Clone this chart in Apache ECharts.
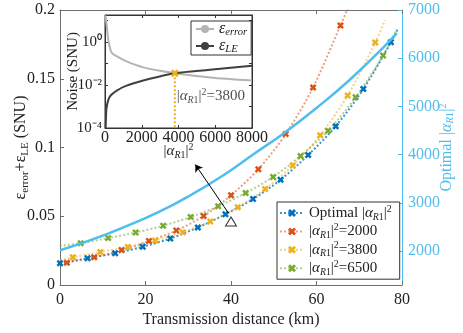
<!DOCTYPE html>
<html><head><meta charset="utf-8">
<script src="https://cdn.jsdelivr.net/npm/echarts@6/dist/echarts.min.js"></script>
<style>html,body{margin:0;padding:0;background:#fff}#c{width:463px;height:333px}</style>
</head><body><div id="c"></div>
<script>
// ---------- data ----------
const xTicks = [0, 20, 40, 60, 80];
const leftTicks = [0, 0.05, 0.1, 0.15, 0.2];
const rightTicks = [2000, 3000, 4000, 5000, 6000, 7000];
const insetXTicks = [0, 2000, 4000, 6000, 8000];
const insetYLabels = [1e-4, 1e-2, 1];
const insetYTicks = [1e-4, 1e-3, 1e-2, 1e-1, 1, 10];

// Optimal |a_R1|^2 (noise, left axis)
const optDist  = [0, 6.45, 12.9, 19.35, 25.8, 32.25, 38.7, 45.15, 51.6, 58.05, 64.5, 70.95, 77.4];
const optNoise = [0.0158, 0.0195, 0.0231, 0.0278, 0.0338, 0.0418, 0.0515, 0.0625, 0.0766, 0.0945, 0.1155, 0.1425, 0.1765];
const optEnd   = [79, 0.186];

const a2000Dist  = [1.6, 8.0, 14.4, 20.8, 27.2, 33.6, 40.0, 46.4, 52.8, 59.2, 65.6];
const a2000Noise = [0.0162, 0.0201, 0.0254, 0.0320, 0.0396, 0.0502, 0.0652, 0.0842, 0.1098, 0.1437, 0.1888];
const a2000Start = [0, 0.0155], a2000End = [67.6, 0.203];

const a3800Dist  = [3.0, 9.43, 15.86, 22.29, 28.72, 35.15, 41.58, 48.01, 54.44, 60.87, 67.3, 73.73];
const a3800Noise = [0.0202, 0.0240, 0.0276, 0.0323, 0.0384, 0.0461, 0.0566, 0.0698, 0.0870, 0.1090, 0.1378, 0.1763];
const a3800Start = [0, 0.0183], a3800End = [76, 0.1925];

const a6500Dist  = [4.84, 11.27, 17.7, 24.13, 30.56, 36.99, 43.42, 49.85, 56.28, 62.71, 69.14, 75.57];
const a6500Noise = [0.0304, 0.0341, 0.0382, 0.0431, 0.0494, 0.0572, 0.0669, 0.0786, 0.0939, 0.1122, 0.1365, 0.1669];
const a6500Start = [0, 0.0285], a6500End = [78.8, 0.186];

// Optimal |a_R1|^2 value (right axis)
const powDist  = [0, 7.3, 15.1, 22.9, 30.7, 38.5, 45, 52.2, 60, 67.8, 75.6, 78.8];
const powValue = [2020, 2235, 2505, 2805, 3170, 3590, 3995, 4435, 4970, 5555, 6220, 6520];

// annotation
const trianglePt = [40, 0.0462];
const arrowFrom = [39.4, 0.0523], arrowTo = [31.65, 0.0876];

// inset
const errPower = [15, 92, 179, 364, 722, 1178, 2080, 2987, 3800, 5703, 8000];
const errNoise = [17.5, 6, 1.26, 0.32, 0.2, 0.125, 0.066, 0.046, 0.0355, 0.0224, 0.0162];
const lePower  = [37, 55, 92, 272, 722, 1178, 2080, 2987, 3800, 5703, 8000];
const leNoise  = [1e-4, 3.16e-4, 1e-3, 2.95e-3, 6.03e-3, 9.33e-3, 0.0162, 0.0251, 0.0355, 0.0513, 0.0794];
const crossPower = 3800, crossNoise = 0.0355, insetFloor = 1e-4;
const crossLabelAt = [3900, 0.0029];

// ---------- styles ----------
const FONT = '"Liberation Serif","Times New Roman",serif';
const C = {blue:'#0072BD', orange:'#D95319', yellow:'#EDB120', green:'#77AC30', cyan:'#4DBEEE',
           lgray:'#b4b4b4', dgray:'#404040', axis:'#6e6e6e', text:'#222'};
const XPATH = 'path://M0.25,0 L0.5,0.25 L0.75,0 L1,0.25 L0.75,0.5 L1,0.75 L0.75,1 L0.5,0.75 L0.25,1 L0,0.75 L0.25,0.5 L0,0.25 Z';

function richSet(size, color) {
  return {
    r:  {fontFamily: FONT, fontSize: size, lineHeight: 18, color},
    i:  {fontFamily: FONT, fontSize: size, lineHeight: 18, fontStyle: 'italic', color},
    si: {fontFamily: FONT, fontSize: size*0.66, lineHeight: 10, verticalAlign: 'bottom', fontStyle: 'italic', color},
    s:  {fontFamily: FONT, fontSize: size*0.66, lineHeight: 10, verticalAlign: 'bottom', color},
    p:  {fontFamily: FONT, fontSize: size*0.66, lineHeight: 10, verticalAlign: 'top', color}
  };
}
const ALPHA = '{r||}{i|α}{si|R}{s|1}{r||}{p|2}';
const plain = v => String(v);
const SUP = {'0':'⁰','1':'¹','2':'²','3':'³','4':'⁴','-':'⁻'};
const pow10Label = v => '10' + String(Math.round(Math.log10(v))).split('').map(ch => SUP[ch]).join('');

function pairs(xs, ys) { return xs.map((x, k) => [x, ys[k]]); }
function dottedSeries(name, color, start, xs, ys, end, lineOpacity) {
  const data = [];
  if (start) data.push({value: start, symbol: 'none'});
  pairs(xs, ys).forEach(p => data.push(p));
  if (end) data.push({value: end, symbol: 'none'});
  return {
    name, type: 'line', xAxisIndex: 0, yAxisIndex: 0, smooth: 0.3, clip: true,
    data, symbol: XPATH, symbolSize: 7, showAllSymbol: true,
    lineStyle: {color, width: 2, type: 'dotted', opacity: lineOpacity},
    itemStyle: {color}, z: 3
  };
}

const legendNames = {
  opt: '{r|Optimal }' + ALPHA,
  a2000: ALPHA + '{r|=2000}',
  a3800: ALPHA + '{r|=3800}',
  a6500: ALPHA + '{r|=6500}',
  err: '{i|ε}{si|error}',
  le: '{i|ε}{si|LE}'
};

const chart = echarts.init(document.getElementById('c'), null, {renderer: 'canvas'});
chart.setOption({
  animation: false,
  backgroundColor: '#fff',
  grid: [
    {left: 60, top: 10, width: 342, height: 275, show: false, outerBoundsMode: 'none', containLabel: false},
    {left: 105, top: 15, width: 147, height: 113, show: true, backgroundColor: '#fff',
     borderColor: '#333', borderWidth: 1, z: 10, outerBoundsMode: 'none', containLabel: false}
  ],
  xAxis: [
    {type: 'value', gridIndex: 0, min: 0, max: 80, interval: 20, position: 'bottom',
     axisLine: {show: true, onZero: false, lineStyle: {color: C.axis}},
     axisTick: {inside: true, length: 4, lineStyle: {color: C.axis}},
     axisLabel: {fontFamily: FONT, fontSize: 16, color: C.text, margin: 7, formatter: plain},
     splitLine: {show: false},
     name: 'Transmission distance (km)', nameLocation: 'middle', nameGap: 27, nameMoveOverlap: false,
     nameTextStyle: {fontFamily: FONT, fontSize: 16, color: C.text}},
    {type: 'value', gridIndex: 0, min: 0, max: 80, interval: 20, position: 'top',
     axisLine: {show: true, onZero: false, lineStyle: {color: C.axis}},
     axisTick: {inside: true, length: 4, lineStyle: {color: C.axis}},
     axisLabel: {show: false}, splitLine: {show: false}},
    {type: 'value', gridIndex: 1, min: 0, max: 8000, interval: 2000, position: 'bottom', z: 12,
     axisLine: {show: true, onZero: false, lineStyle: {color: '#333'}},
     axisTick: {inside: true, length: 3, lineStyle: {color: '#333'}},
     axisLabel: {fontFamily: FONT, fontSize: 16, color: C.text, margin: 2, formatter: plain},
     splitLine: {show: false},
     name: ALPHA, nameLocation: 'middle', nameGap: 14, nameMoveOverlap: false,
     nameTextStyle: {fontFamily: FONT, fontSize: 15, color: C.text, rich: richSet(15, C.text)}},
    {type: 'value', gridIndex: 1, min: 0, max: 8000, interval: 2000, position: 'top', z: 12,
     axisLine: {show: true, onZero: false, lineStyle: {color: '#333'}},
     axisTick: {inside: true, length: 3, lineStyle: {color: '#333'}},
     axisLabel: {show: false}, splitLine: {show: false}}
  ],
  yAxis: [
    {type: 'value', gridIndex: 0, min: 0, max: 0.2, interval: 0.05, position: 'left',
     axisLine: {show: true, onZero: false, lineStyle: {color: C.axis}},
     axisTick: {inside: true, length: 4, lineStyle: {color: C.axis}},
     axisLabel: {fontFamily: FONT, fontSize: 16, color: C.text, margin: 5, formatter: plain},
     splitLine: {show: false},
     name: '{g|ε}{s|error}{g|+ε}{s|LE}{g| (SNU)}', nameLocation: 'middle', nameGap: 29, nameRotate: 90,
     nameMoveOverlap: false,
     nameTextStyle: {fontFamily: FONT, fontSize: 16, color: C.text,
       rich: {g: {fontFamily: FONT, fontSize: 16, lineHeight: 20, color: C.text},
              s: {fontFamily: FONT, fontSize: 11, lineHeight: 12, verticalAlign: 'bottom', color: C.text}}}},
    {type: 'value', gridIndex: 0, min: 1300, max: 7000, position: 'right',
     axisLine: {show: true, onZero: false, lineStyle: {color: C.cyan}},
     axisTick: {inside: true, length: 4, lineStyle: {color: C.cyan}, customValues: rightTicks},
     axisLabel: {fontFamily: FONT, fontSize: 16, color: C.cyan, margin: 6, customValues: rightTicks, formatter: plain},
     splitLine: {show: false},
     name: '{r|Optimal }' + ALPHA, nameLocation: 'middle', nameGap: 36, nameRotate: 90, nameMoveOverlap: false,
     nameTextStyle: {fontFamily: FONT, fontSize: 16, color: C.cyan, rich: richSet(16, C.cyan)}},
    {type: 'log', gridIndex: 1, min: 1e-4, max: 18, position: 'left', z: 12,
     axisLine: {show: true, onZero: false, lineStyle: {color: '#333'}},
     axisTick: {inside: true, length: 3, lineStyle: {color: '#333'}, customValues: insetYTicks},
     axisLabel: {customValues: insetYLabels, margin: 3, inside: false, align: 'right',
       fontFamily: FONT, fontSize: 15, color: C.text, formatter: pow10Label},
     splitLine: {show: false},
     name: 'Noise (SNU)', nameLocation: 'middle', nameGap: 24, nameRotate: 90, nameMoveOverlap: false,
     nameTextStyle: {fontFamily: FONT, fontSize: 15, color: C.text}},
    {type: 'log', gridIndex: 1, min: 1e-4, max: 18, position: 'right', z: 12,
     axisLine: {show: true, onZero: false, lineStyle: {color: '#333'}},
     axisTick: {inside: true, length: 3, lineStyle: {color: '#333'}, customValues: insetYTicks},
     axisLabel: {show: false}, splitLine: {show: false}}
  ],
  legend: [
    {data: ['opt', 'a2000', 'a3800', 'a6500'], orient: 'vertical', left: 277, top: 202,
     itemWidth: 24, itemHeight: 10, itemGap: 0.4, padding: [2, 8, 2, 2],
     backgroundColor: '#fff', borderColor: '#333', borderWidth: 1, borderRadius: 0,
     formatter: n => legendNames[n],
     textStyle: {fontFamily: FONT, fontSize: 15, color: C.text, rich: richSet(15, C.text)}, z: 20},
    {data: ['err', 'le'], orient: 'vertical', left: 191, top: 21,
     itemWidth: 18, itemHeight: 10, itemGap: 0, padding: [0, 4, 0, 4],
     backgroundColor: '#fff', borderColor: '#333', borderWidth: 1, borderRadius: 0,
     formatter: n => legendNames[n],
     textStyle: {fontFamily: FONT, fontSize: 16, color: C.text, rich: richSet(16, C.text)}, z: 20}
  ],
  series: [
    dottedSeries('opt', C.blue, null, optDist, optNoise, optEnd, 0.75),
    dottedSeries('a2000', C.orange, a2000Start, a2000Dist, a2000Noise, a2000End, 0.55),
    dottedSeries('a3800', C.yellow, a3800Start, a3800Dist, a3800Noise, a3800End, 0.55),
    dottedSeries('a6500', C.green, a6500Start, a6500Dist, a6500Noise, a6500End, 0.55),
    {name: 'power', type: 'line', xAxisIndex: 0, yAxisIndex: 1, smooth: 0.5, symbol: 'none',
     data: pairs(powDist, powValue), lineStyle: {color: C.cyan, width: 2.5}, z: 4},
    {name: 'tri', type: 'scatter', xAxisIndex: 0, yAxisIndex: 0, data: [trianglePt],
     symbol: 'triangle', symbolSize: [11, 9], itemStyle: {color: '#fff', borderColor: '#000', borderWidth: 1}, z: 5},
    {name: 'arrow', type: 'lines', coordinateSystem: 'cartesian2d', xAxisIndex: 0, yAxisIndex: 0,
     data: [{coords: [arrowFrom, arrowTo]}], symbol: ['none', 'arrow'], symbolSize: 7,
     lineStyle: {color: '#000', width: 1, opacity: 1}, z: 5},
    // inset
    {name: 'err', type: 'line', xAxisIndex: 2, yAxisIndex: 2, smooth: 0.3, symbol: 'none',
     data: pairs(errPower, errNoise), lineStyle: {color: C.lgray, width: 2}, itemStyle: {color: C.lgray}, z: 13},
    {name: 'le', type: 'line', xAxisIndex: 2, yAxisIndex: 2, smooth: 0.3, symbol: 'none',
     data: pairs(lePower, leNoise), lineStyle: {color: C.dgray, width: 2}, itemStyle: {color: C.dgray}, z: 13},
    {name: 'cross', type: 'line', xAxisIndex: 2, yAxisIndex: 2, symbol: 'none',
     data: [{value: [crossPower, crossNoise], symbol: XPATH, symbolSize: 8}, [crossPower, insetFloor]],
     lineStyle: {color: C.yellow, width: 2, type: 'dotted'}, itemStyle: {color: C.yellow}, z: 14},
    {name: 'crossLabel', type: 'scatter', xAxisIndex: 2, yAxisIndex: 2, data: [crossLabelAt],
     symbolSize: 0, z: 14,
     label: {show: true, position: 'right', distance: 0, formatter: ALPHA + '{r|=' + crossPower + '}',
             rich: richSet(15, C.text)}}
  ]
});
</script></body></html>
